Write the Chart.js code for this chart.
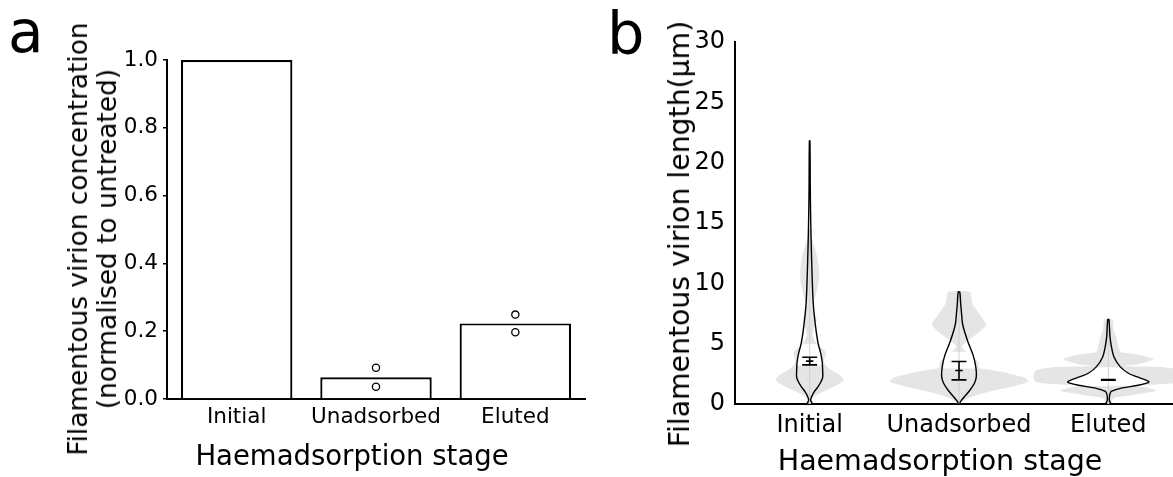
<!DOCTYPE html>
<html>
<head>
<meta charset="utf-8">
<script src="https://cdn.jsdelivr.net/npm/chart.js@4/dist/chart.umd.min.js"></script>
<style>
  html, body { margin: 0; padding: 0; background: #fff; overflow: hidden; }
  body { width: 1173px; height: 477px; position: relative; font-family: "DejaVu Sans", sans-serif; color: #000; }
  canvas { position: absolute; top: 0; }
  #barCanvas { left: 0; }
  #violinCanvas { left: 600px; }
  .txt { position: absolute; white-space: nowrap; line-height: 1; }
  .rot { position: absolute; white-space: nowrap; text-align: center; transform: translate(-50%, -50%) rotate(-90deg); }
</style>
</head>
<body>
<canvas id="barCanvas" width="600" height="477"></canvas>
<canvas id="violinCanvas" width="600" height="477"></canvas>

<div class="txt" style="left:8px; top:3px; font-size:58px;">a</div>
<div class="txt" style="left:607px; top:4px; font-size:59px;">b</div>
<div class="rot" style="left:92px; top:239px; font-size:26.4px; line-height:29px;">Filamentous virion concentration<br>(normalised to untreated)</div>
<div class="rot" style="left:680px; top:234px; font-size:28.3px; line-height:30px;">Filamentous virion length(μm)</div>
<div class="txt" style="left:352px; top:442px; font-size:27.5px; transform:translateX(-50%);">Haemadsorption stage</div>
<div class="txt" style="left:940px; top:447px; font-size:28.5px; transform:translateX(-50%);">Haemadsorption stage</div>

<script>
// ---- shared categories ----
const stages = ['Initial', 'Unadsorbed', 'Eluted'];

// ---- panel a: normalised filamentous virion concentration ----
const relConc = [1.0, 0.064, 0.223];
const replicate1 = [null, 0.036, 0.197];
const replicate2 = [null, 0.092, 0.249];
const concTicks = [0, 0.2, 0.4, 0.6, 0.8, 1.0];

// ---- panel b: filament length distributions ----
// density profiles as [length (µm), half-width (category widths)]
const initialPooled = [[0, .007], [0.4, .013], [0.8, .054], [1.2, .121], [1.6, .188], [2.0, .228], [2.4, .201],
  [2.8, .148], [3.2, .107], [3.6, .094], [4.0, .107], [4.3, .107], [4.7, .074], [5.2, .034], [5.8, .020],
  [6.5, .034], [7.0, .047], [7.5, .034], [8.2, .020], [9.0, .040], [10.0, .060], [11.0, .064], [12.0, .054],
  [13.0, .034], [13.8, .013], [14.5, .003]];
const unadsorbedPooled = [[0, .007], [0.2, .020], [0.6, .087], [1.0, .195], [1.45, .356], [1.85, .463],
  [2.15, .443], [2.55, .329], [2.85, .195], [3.0, .134], [3.5, .128], [4.05, .081], [4.5, .034], [4.8, .020],
  [5.2, .054], [5.75, .114], [6.55, .181], [7.5, .134], [8.4, .087], [9.28, .074]];
const elutedPooled = [[0, .003], [0.5, .040], [0.75, .168], [1.1, .322], [1.4, .235], [1.52, .081], [1.6, .302],
  [1.8, .483], [2.3, .503], [2.8, .483], [3.05, .369], [3.15, .101], [3.3, .201], [3.7, .302], [4.1, .201],
  [4.3, .081], [4.8, .067], [5.5, .054], [6.2, .034], [7.0, .027]];

const initialKde = [[0, .020], [0.3, .007], [0.6, .013], [1.0, .030], [1.4, .054], [1.8, .074], [2.2, .087],
  [2.8, .087], [3.5, .084], [4.2, .074], [5.0, .057], [6.0, .044], [7.0, .034], [8.0, .026], [9.0, .021],
  [10.0, .018], [12.0, .013], [14.0, .009], [16.0, .006], [18.0, .004], [21.8, .002]];
const unadsorbedKde = [[0, .005], [0.19, .010], [0.6, .036], [1.16, .074], [1.72, .103], [2.27, .116],
  [3.1, .112], [4.07, .094], [5.18, .059], [6.57, .025], [7.5, .017], [8.37, .011], [9.28, .005]];
const elutedKde = [[0, .020], [0.3, .007], [0.8, .010], [1.05, .020], [1.3, .081], [1.55, .201], [1.75, .262],
  [1.85, .272], [2.0, .248], [2.27, .188], [2.55, .134], [3.1, .079], [3.9, .038], [4.8, .020], [5.6, .011],
  [7.0, .004]];

// length ranges where the kde body is left open (no pooled fill behind it)
const openBands = [[3.2, 4.9], [2.95, 4.3], [1.5, 3.0]];

const meanLength = [3.55, 2.78, 2.0];
const ciLower = [3.24, 2.0, 1.98];
const ciUpper = [3.88, 3.52, 2.02];
const lengthTicks = [0, 5, 10, 15, 20, 25, 30];

const pooledProfiles = [initialPooled, unadsorbedPooled, elutedPooled];
const kdeProfiles = [initialKde, unadsorbedKde, elutedKde];

Chart.defaults.font.family = '"DejaVu Sans", sans-serif';
Chart.defaults.color = '#000';

// ---------- panel a ----------
new Chart(document.getElementById('barCanvas'), {
  type: 'bar',
  data: {
    labels: stages,
    datasets: [
      { type: 'bar', data: relConc, backgroundColor: '#fff', borderColor: '#000', borderWidth: 2.2,
        barPercentage: 0.8, categoryPercentage: 1, order: 3 },
      { type: 'line', data: replicate1, showLine: false, pointRadius: 3.6, pointBorderWidth: 1.3,
        pointBackgroundColor: '#fff', pointBorderColor: '#000', order: 1 },
      { type: 'line', data: replicate2, showLine: false, pointRadius: 3.6, pointBorderWidth: 1.3,
        pointBackgroundColor: '#fff', pointBorderColor: '#000', order: 2 }
    ]
  },
  options: {
    responsive: false, animation: false, devicePixelRatio: 1,
    layout: { padding: { left: 0, top: 60, right: 15, bottom: 0 } },
    plugins: { legend: { display: false }, tooltip: { enabled: false } },
    scales: {
      x: {
        grid: { display: false, drawTicks: false },
        border: { display: true, color: '#000', width: 2 },
        ticks: { font: { size: 21.5 }, color: '#000', padding: 6 },
        afterFit: s => { s.height = 78; }
      },
      y: {
        min: 0, max: 1,
        grid: { display: true, drawOnChartArea: false, drawTicks: true, tickLength: 4, color: '#000', lineWidth: 1.5 },
        border: { display: true, color: '#000', width: 2 },
        ticks: { font: { size: 21.5 }, color: '#000', padding: 5, callback: v => v.toFixed(1) },
        afterBuildTicks: s => { s.ticks = concTicks.map(v => ({ value: v })); },
        afterFit: s => { s.width = 167; }
      }
    }
  }
});

// ---------- panel b ----------
function bodyPoints(center, profile) {
  const right = profile.map(([v, w]) => ({ x: center + w, y: v }));
  const left = profile.slice().reverse().map(([v, w]) => ({ x: center - w, y: v }));
  return right.concat(left);
}
function widthAt(profile, v) {
  for (let k = 1; k < profile.length; k++) {
    const [v0, w0] = profile[k - 1], [v1, w1] = profile[k];
    if (v >= v0 && v <= v1) return w0 + (w1 - w0) * (v - v0) / (v1 - v0);
  }
  return 0;
}
function bandProfile(profile, lo, hi) {
  return [[lo, widthAt(profile, lo)], ...profile.filter(([v]) => v > lo && v < hi), [hi, widthAt(profile, hi)]];
}

const violinSets = [];
stages.forEach((name, i) => {
  const pooled = pooledProfiles[i];
  const kde = kdeProfiles[i];
  const [lo, hi] = openBands[i];
  violinSets.push({
    data: bodyPoints(i, pooled), showLine: true, fill: 'shape', backgroundColor: '#e5e5e5',
    borderColor: 'rgba(0,0,0,0)', borderWidth: 0, pointRadius: 0, tension: 0.2, order: 5
  });
  violinSets.push({
    data: bodyPoints(i, bandProfile(kde, lo, hi)), showLine: true, fill: 'shape', backgroundColor: '#fff',
    borderColor: 'rgba(0,0,0,0)', borderWidth: 0, pointRadius: 0, tension: 0.2, order: 4
  });
  violinSets.push({
    data: [{ x: i, y: 0 }, { x: i, y: pooled[pooled.length - 1][0] }], showLine: true,
    borderColor: '#d0d0d0', borderWidth: 1, pointRadius: 0, order: 3
  });
  violinSets.push({
    data: bodyPoints(i, kde), showLine: true, fill: false, borderColor: '#000', borderWidth: 1.4,
    pointRadius: 0, tension: 0.3, order: 2
  });
  const cap = 0.05, tick = 0.025;
  violinSets.push({
    data: [
      { x: i - cap, y: ciUpper[i] }, { x: i + cap, y: ciUpper[i] }, { x: i, y: null },
      { x: i, y: ciUpper[i] }, { x: i, y: ciLower[i] }, { x: i, y: null },
      { x: i - cap, y: ciLower[i] }, { x: i + cap, y: ciLower[i] }, { x: i, y: null },
      { x: i - tick, y: meanLength[i] }, { x: i + tick, y: meanLength[i] }
    ],
    showLine: true, borderColor: '#000', borderWidth: 1.6, pointRadius: 0, tension: 0, order: 1
  });
});

new Chart(document.getElementById('violinCanvas'), {
  type: 'scatter',
  data: { datasets: violinSets },
  options: {
    responsive: false, animation: false, devicePixelRatio: 1,
    layout: { padding: { left: 0, top: 42, right: 17, bottom: 0 } },
    plugins: { legend: { display: false }, tooltip: { enabled: false } },
    scales: {
      x: {
        type: 'linear', min: -0.5, max: 2.5,
        grid: { display: false, drawTicks: false },
        border: { display: true, color: '#000', width: 2 },
        ticks: { font: { size: 24 }, color: '#000', padding: 7, callback: v => stages[Math.round(v)] },
        afterBuildTicks: s => { s.ticks = stages.map((_, i) => ({ value: i })); },
        afterFit: s => { s.height = 73; }
      },
      y: {
        min: 0, max: 30,
        grid: { display: false, drawTicks: false },
        border: { display: true, color: '#000', width: 2 },
        ticks: { font: { size: 24 }, color: '#000', padding: 10 },
        afterBuildTicks: s => { s.ticks = lengthTicks.map(v => ({ value: v })); },
        afterFit: s => { s.width = 135; }
      }
    }
  }
});
</script>
</body>
</html>
